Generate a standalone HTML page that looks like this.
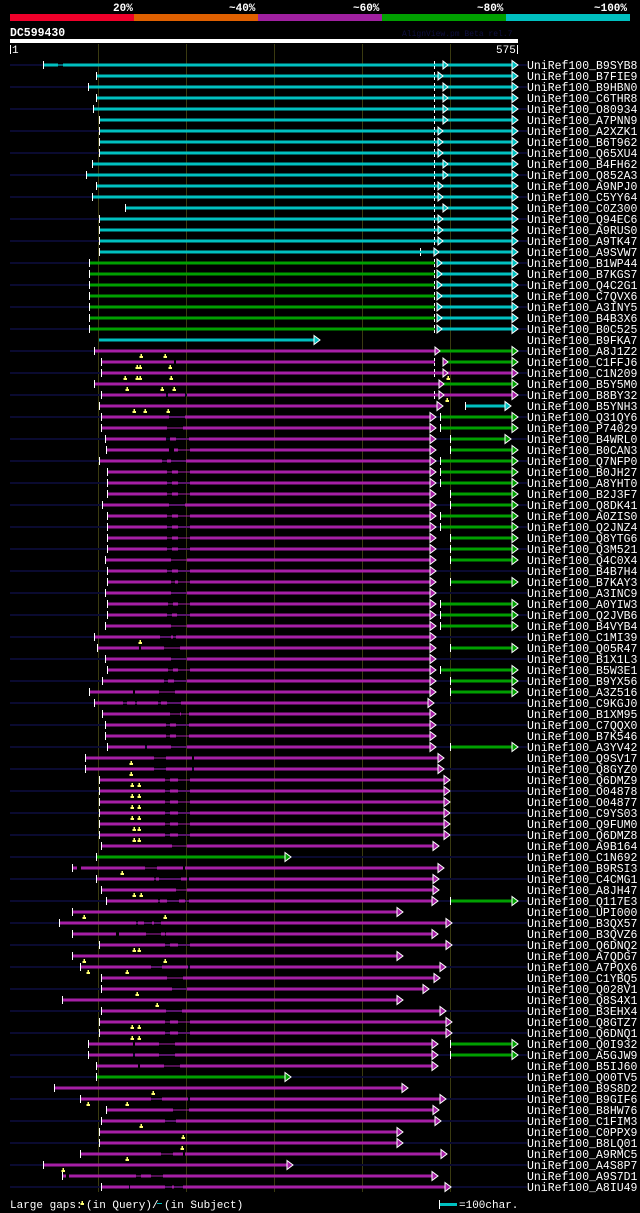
<!DOCTYPE html>
<html><head><meta charset="utf-8"><style>
html,body{margin:0;padding:0;background:#000;}
svg{display:block;}
text{font-family:"Liberation Mono","DejaVu Sans Mono",monospace;fill:#fff;}
.l{font-size:11.5px;}
.m{fill:#a61fa6}.c{fill:#00c0c0}.g{fill:#00a000}.n{fill:#0a0a30}.w{fill:#fff}
</style></head><body>
<svg width="640" height="1213" viewBox="0 0 640 1213" xmlns="http://www.w3.org/2000/svg">
<defs>
<polygon id="am" points="0,-4.5 6,0 0,4.5" fill="#a61fa6" stroke="#fff" stroke-width="1"/>
<polygon id="ag" points="0,-4.5 6,0 0,4.5" fill="#00a000" stroke="#fff" stroke-width="1"/>
<polygon id="ac" points="0,-4.5 6,0 0,4.5" fill="#00c0c0" stroke="#fff" stroke-width="1"/>
<polygon id="sc" points="0,-4 5,0 0,4" fill="#00c0c0" stroke="#fff" stroke-width="1"/>
<polygon id="sm" points="0,-4 5,0 0,4" fill="#a61fa6" stroke="#fff" stroke-width="1"/>
<g id="y"><rect x="-0.5" y="3" width="1.5" height="2" fill="#ffff70"/><rect x="-1.5" y="5" width="3.5" height="2" fill="#ffff70"/></g>
<g id="d"><rect x="0" y="-4" width="1" height="3" fill="#fff"/><rect x="0" y="1" width="1" height="3" fill="#fff"/></g>
</defs>
<!-- header -->
<text x="113" y="11" style="font-size:11px;font-weight:bold">20%</text>
<text x="229" y="11" style="font-size:11px;font-weight:bold">~40%</text>
<text x="353" y="11" style="font-size:11px;font-weight:bold">~60%</text>
<text x="477" y="11" style="font-size:11px;font-weight:bold">~80%</text>
<text x="594" y="11" style="font-size:11px;font-weight:bold">~100%</text>
<rect x="10" y="14" width="124" height="7" fill="#f0002a"/>
<rect x="134" y="14" width="124" height="7" fill="#e06000"/>
<rect x="258" y="14" width="124" height="7" fill="#a020a0"/>
<rect x="382" y="14" width="124" height="7" fill="#00a000"/>
<rect x="506" y="14" width="124" height="7" fill="#00c0c0"/>
<text x="10" y="36" style="font-size:11.5px;font-weight:bold">DC599430</text>
<text x="402" y="36" style="font-size:8px;fill:#101040">AlignView.pm Beta rel.7</text>
<rect x="10" y="39" width="508" height="4" fill="#fff"/>
<rect x="10" y="45" width="1" height="9" fill="#fff"/>
<text x="12" y="53" style="font-size:11px">1</text>
<text x="496" y="53" style="font-size:11px">575</text>
<rect x="517" y="45" width="1" height="9" fill="#fff"/>
<g fill="#3a3a10"><rect x="98" y="44" width="1" height="1148"/><rect x="186" y="44" width="1" height="1148"/><rect x="274" y="44" width="1" height="1148"/><rect x="362" y="44" width="1" height="1148"/><rect x="450" y="44" width="1" height="1148"/></g>
<!-- odd-row navy lines -->
<g class="n">
<rect x="10" y="64" width="517" height="2"/><rect x="10" y="86" width="517" height="2"/><rect x="10" y="108" width="517" height="2"/><rect x="10" y="130" width="517" height="2"/><rect x="10" y="152" width="517" height="2"/><rect x="10" y="174" width="517" height="2"/><rect x="10" y="196" width="517" height="2"/><rect x="10" y="218" width="517" height="2"/><rect x="10" y="240" width="517" height="2"/><rect x="10" y="262" width="517" height="2"/><rect x="10" y="284" width="517" height="2"/><rect x="10" y="306" width="517" height="2"/><rect x="10" y="328" width="517" height="2"/><rect x="10" y="350" width="517" height="2"/><rect x="10" y="372" width="517" height="2"/><rect x="10" y="394" width="517" height="2"/><rect x="10" y="416" width="517" height="2"/><rect x="10" y="438" width="517" height="2"/><rect x="10" y="460" width="517" height="2"/><rect x="10" y="482" width="517" height="2"/><rect x="10" y="504" width="517" height="2"/><rect x="10" y="526" width="517" height="2"/><rect x="10" y="548" width="517" height="2"/><rect x="10" y="570" width="517" height="2"/><rect x="10" y="592" width="517" height="2"/><rect x="10" y="614" width="517" height="2"/><rect x="10" y="636" width="517" height="2"/><rect x="10" y="658" width="517" height="2"/><rect x="10" y="680" width="517" height="2"/><rect x="10" y="702" width="517" height="2"/><rect x="10" y="724" width="517" height="2"/><rect x="10" y="746" width="517" height="2"/><rect x="10" y="768" width="517" height="2"/><rect x="10" y="790" width="517" height="2"/><rect x="10" y="812" width="517" height="2"/><rect x="10" y="834" width="517" height="2"/><rect x="10" y="856" width="517" height="2"/><rect x="10" y="878" width="517" height="2"/><rect x="10" y="900" width="517" height="2"/><rect x="10" y="922" width="517" height="2"/><rect x="10" y="944" width="517" height="2"/><rect x="10" y="966" width="517" height="2"/><rect x="10" y="988" width="517" height="2"/><rect x="10" y="1010" width="517" height="2"/><rect x="10" y="1032" width="517" height="2"/><rect x="10" y="1054" width="517" height="2"/><rect x="10" y="1076" width="517" height="2"/><rect x="10" y="1098" width="517" height="2"/><rect x="10" y="1120" width="517" height="2"/><rect x="10" y="1142" width="517" height="2"/><rect x="10" y="1164" width="517" height="2"/><rect x="10" y="1186" width="517" height="2"/>
</g>
<!-- cyan rows 1-18 -->
<g transform="translate(0,65)"><rect class="c" x="44" y="-1.5" width="14" height="3"/><rect class="c" x="58" y="-0.5" width="5" height="1"/><rect class="c" x="63" y="-1.5" width="449" height="3"/><rect class="w" x="43" y="-4" width="1" height="8"/><use href="#d" x="434"/><use href="#sc" x="443"/><use href="#ac" x="512"/><text class="l" x="527" y="4">UniRef100_B9SYB8</text></g>
<g transform="translate(0,76)"><rect class="c" x="96" y="-1.5" width="416" height="3"/><rect class="w" x="96" y="-4" width="1" height="8"/><use href="#d" x="434"/><use href="#sc" x="438"/><use href="#ac" x="512"/><text class="l" x="527" y="4">UniRef100_B7FIE9</text></g>
<g transform="translate(0,87)"><rect class="c" x="88" y="-1.5" width="424" height="3"/><rect class="w" x="88" y="-4" width="1" height="8"/><use href="#d" x="434"/><use href="#sc" x="443"/><use href="#ac" x="512"/><text class="l" x="527" y="4">UniRef100_B9HBN0</text></g>
<g transform="translate(0,98)"><rect class="c" x="96" y="-1.5" width="416" height="3"/><rect class="w" x="96" y="-4" width="1" height="8"/><use href="#d" x="434"/><use href="#sc" x="443"/><use href="#ac" x="512"/><text class="l" x="527" y="4">UniRef100_C6THR8</text></g>
<g transform="translate(0,109)"><rect class="c" x="93" y="-1.5" width="419" height="3"/><rect class="w" x="93" y="-4" width="1" height="8"/><use href="#d" x="434"/><use href="#sc" x="443"/><use href="#ac" x="512"/><text class="l" x="527" y="4">UniRef100_O80934</text></g>
<g transform="translate(0,120)"><rect class="c" x="99" y="-1.5" width="413" height="3"/><rect class="w" x="99" y="-4" width="1" height="8"/><use href="#d" x="434"/><use href="#sc" x="443"/><use href="#ac" x="512"/><text class="l" x="527" y="4">UniRef100_A7PNN9</text></g>
<g transform="translate(0,131)"><rect class="c" x="99" y="-1.5" width="413" height="3"/><rect class="w" x="99" y="-4" width="1" height="8"/><use href="#d" x="434"/><use href="#sc" x="438"/><use href="#ac" x="512"/><text class="l" x="527" y="4">UniRef100_A2XZK1</text></g>
<g transform="translate(0,142)"><rect class="c" x="99" y="-1.5" width="413" height="3"/><rect class="w" x="99" y="-4" width="1" height="8"/><use href="#d" x="434"/><use href="#sc" x="438"/><use href="#ac" x="512"/><text class="l" x="527" y="4">UniRef100_B6T962</text></g>
<g transform="translate(0,153)"><rect class="c" x="99" y="-1.5" width="413" height="3"/><rect class="w" x="99" y="-4" width="1" height="8"/><use href="#d" x="434"/><use href="#sc" x="438"/><use href="#ac" x="512"/><text class="l" x="527" y="4">UniRef100_Q65XU4</text></g>
<g transform="translate(0,164)"><rect class="c" x="92" y="-1.5" width="420" height="3"/><rect class="w" x="92" y="-4" width="1" height="8"/><use href="#d" x="434"/><use href="#sc" x="443"/><use href="#ac" x="512"/><text class="l" x="527" y="4">UniRef100_B4FH62</text></g>
<g transform="translate(0,175)"><rect class="c" x="86" y="-1.5" width="426" height="3"/><rect class="w" x="86" y="-4" width="1" height="8"/><use href="#d" x="434"/><use href="#sc" x="443"/><use href="#ac" x="512"/><text class="l" x="527" y="4">UniRef100_Q852A3</text></g>
<g transform="translate(0,186)"><rect class="c" x="96" y="-1.5" width="416" height="3"/><rect class="w" x="96" y="-4" width="1" height="8"/><use href="#d" x="434"/><use href="#sc" x="438"/><use href="#ac" x="512"/><text class="l" x="527" y="4">UniRef100_A9NPJ0</text></g>
<g transform="translate(0,197)"><rect class="c" x="92" y="-1.5" width="420" height="3"/><rect class="w" x="92" y="-4" width="1" height="8"/><use href="#d" x="434"/><use href="#sc" x="438"/><use href="#ac" x="512"/><text class="l" x="527" y="4">UniRef100_C5YY64</text></g>
<g transform="translate(0,208)"><rect class="c" x="125" y="-1.5" width="387" height="3"/><rect class="w" x="125" y="-4" width="1" height="8"/><use href="#d" x="434"/><use href="#sc" x="443"/><use href="#ac" x="512"/><text class="l" x="527" y="4">UniRef100_C0Z300</text></g>
<g transform="translate(0,219)"><rect class="c" x="99" y="-1.5" width="413" height="3"/><rect class="w" x="99" y="-4" width="1" height="8"/><use href="#d" x="434"/><use href="#sc" x="438"/><use href="#ac" x="512"/><text class="l" x="527" y="4">UniRef100_Q94EC6</text></g>
<g transform="translate(0,230)"><rect class="c" x="99" y="-1.5" width="413" height="3"/><rect class="w" x="99" y="-4" width="1" height="8"/><use href="#d" x="434"/><use href="#sc" x="438"/><use href="#ac" x="512"/><text class="l" x="527" y="4">UniRef100_A9RUS0</text></g>
<g transform="translate(0,241)"><rect class="c" x="99" y="-1.5" width="413" height="3"/><rect class="w" x="99" y="-4" width="1" height="8"/><use href="#d" x="434"/><use href="#sc" x="438"/><use href="#ac" x="512"/><text class="l" x="527" y="4">UniRef100_A9TK47</text></g>
<g transform="translate(0,252)"><rect class="c" x="99" y="-1.5" width="413" height="3"/><rect class="w" x="99" y="-4" width="1" height="8"/><use href="#d" x="420"/><use href="#sc" x="434"/><use href="#ac" x="512"/><text class="l" x="527" y="4">UniRef100_A9SVW7</text></g>
<!-- green+cyan rows 19-25 -->
<g transform="translate(0,263)"><rect class="g" x="89" y="-1.5" width="346" height="3"/><rect class="c" x="437" y="-1.5" width="75" height="3"/><rect class="w" x="89" y="-4" width="1" height="8"/><use href="#d" x="434"/><use href="#sc" x="437"/><use href="#ac" x="512"/><text class="l" x="527" y="4">UniRef100_B1WP44</text></g>
<g transform="translate(0,274)"><rect class="g" x="89" y="-1.5" width="346" height="3"/><rect class="c" x="437" y="-1.5" width="75" height="3"/><rect class="w" x="89" y="-4" width="1" height="8"/><use href="#d" x="434"/><use href="#sc" x="437"/><use href="#ac" x="512"/><text class="l" x="527" y="4">UniRef100_B7KGS7</text></g>
<g transform="translate(0,285)"><rect class="g" x="89" y="-1.5" width="346" height="3"/><rect class="c" x="437" y="-1.5" width="75" height="3"/><rect class="w" x="89" y="-4" width="1" height="8"/><use href="#d" x="434"/><use href="#sc" x="437"/><use href="#ac" x="512"/><text class="l" x="527" y="4">UniRef100_Q4C2G1</text></g>
<g transform="translate(0,296)"><rect class="g" x="89" y="-1.5" width="346" height="3"/><rect class="c" x="437" y="-1.5" width="75" height="3"/><rect class="w" x="89" y="-4" width="1" height="8"/><use href="#d" x="434"/><use href="#sc" x="437"/><use href="#ac" x="512"/><text class="l" x="527" y="4">UniRef100_C7QVX6</text></g>
<g transform="translate(0,307)"><rect class="g" x="89" y="-1.5" width="346" height="3"/><rect class="c" x="437" y="-1.5" width="75" height="3"/><rect class="w" x="89" y="-4" width="1" height="8"/><use href="#d" x="434"/><use href="#sc" x="437"/><use href="#ac" x="512"/><text class="l" x="527" y="4">UniRef100_A3INY5</text></g>
<g transform="translate(0,318)"><rect class="g" x="89" y="-1.5" width="346" height="3"/><rect class="c" x="437" y="-1.5" width="75" height="3"/><rect class="w" x="89" y="-4" width="1" height="8"/><use href="#d" x="434"/><use href="#sc" x="437"/><use href="#ac" x="512"/><text class="l" x="527" y="4">UniRef100_B4B3X6</text></g>
<g transform="translate(0,329)"><rect class="g" x="89" y="-1.5" width="346" height="3"/><rect class="c" x="437" y="-1.5" width="75" height="3"/><rect class="w" x="89" y="-4" width="1" height="8"/><use href="#d" x="434"/><use href="#sc" x="437"/><use href="#ac" x="512"/><text class="l" x="527" y="4">UniRef100_B0C525</text></g>
<g transform="translate(0,340)"><rect class="c" x="99" y="-1.5" width="215" height="3"/><use href="#ac" x="314"/><text class="l" x="527" y="4">UniRef100_B9FKA7</text></g>
<!-- magenta rows -->
<g transform="translate(0,351)"><rect class="m" x="94" y="-1.5" width="341" height="3"/><rect class="g" x="437" y="-1.5" width="75" height="3"/><rect class="w" x="94" y="-4" width="1" height="8"/><use href="#sm" x="435"/><use href="#ag" x="512"/><use href="#y" x="141"/><use href="#y" x="165"/><text class="l" x="527" y="4">UniRef100_A8J1Z2</text></g>
<g transform="translate(0,362)"><rect class="m" x="101" y="-1.5" width="73" height="3"/><rect class="m" x="176" y="-1.5" width="259" height="3"/><rect class="g" x="445" y="-1.5" width="67" height="3"/><rect class="w" x="101" y="-4" width="1" height="8"/><use href="#d" x="434"/><use href="#sm" x="443"/><use href="#ag" x="512"/><use href="#y" x="137"/><use href="#y" x="140"/><use href="#y" x="170"/><text class="l" x="527" y="4">UniRef100_C1FFJ6</text></g>
<g transform="translate(0,373)"><rect class="m" x="101" y="-1.5" width="411" height="3"/><rect class="w" x="101" y="-4" width="1" height="8"/><use href="#d" x="434"/><use href="#sm" x="443"/><use href="#am" x="512"/><use href="#y" x="125"/><use href="#y" x="137"/><use href="#y" x="140"/><use href="#y" x="171"/><use href="#y" x="448"/><text class="l" x="527" y="4">UniRef100_C1N209</text></g>
<g transform="translate(0,384)"><rect class="m" x="94" y="-1.5" width="345" height="3"/><rect class="g" x="440" y="-1.5" width="72" height="3"/><rect class="w" x="94" y="-4" width="1" height="8"/><use href="#sm" x="439"/><use href="#ag" x="512"/><use href="#y" x="127"/><use href="#y" x="162"/><use href="#y" x="174"/><text class="l" x="527" y="4">UniRef100_B5Y5M0</text></g>
<g transform="translate(0,395)"><rect class="m" x="101" y="-1.5" width="65" height="3"/><rect class="m" x="168" y="-1.5" width="17" height="3"/><rect class="m" x="187" y="-1.5" width="325" height="3"/><rect class="w" x="101" y="-4" width="1" height="8"/><use href="#d" x="434"/><use href="#sm" x="439"/><use href="#am" x="512"/><use href="#y" x="447"/><text class="l" x="527" y="4">UniRef100_B8BY32</text></g>
<g transform="translate(0,406)"><rect class="m" x="99" y="-1.5" width="338" height="3"/><rect class="c" x="465" y="-1.5" width="40" height="3"/><rect class="w" x="99" y="-4" width="1" height="8"/><rect class="w" x="465" y="-4" width="1" height="8"/><use href="#am" x="437"/><use href="#ac" x="505"/><use href="#y" x="134"/><use href="#y" x="145"/><use href="#y" x="168"/><text class="l" x="527" y="4">UniRef100_B5YNH3</text></g>
<g transform="translate(0,417)"><rect class="m" x="101" y="-1.5" width="68" height="3"/><rect class="m" x="169" y="-0.5" width="16" height="1"/><rect class="m" x="185" y="-1.5" width="245" height="3"/><rect class="g" x="440" y="-1.5" width="72" height="3"/><rect class="w" x="101" y="-4" width="1" height="8"/><rect class="w" x="440" y="-4" width="1" height="8"/><use href="#am" x="430"/><use href="#ag" x="512"/><text class="l" x="527" y="4">UniRef100_Q31QY6</text></g>
<g transform="translate(0,428)"><rect class="m" x="101" y="-1.5" width="66" height="3"/><rect class="m" x="167" y="-0.5" width="16" height="1"/><rect class="m" x="183" y="-1.5" width="247" height="3"/><rect class="g" x="440" y="-1.5" width="72" height="3"/><rect class="w" x="101" y="-4" width="1" height="8"/><rect class="w" x="440" y="-4" width="1" height="8"/><use href="#am" x="430"/><use href="#ag" x="512"/><text class="l" x="527" y="4">UniRef100_P74029</text></g>
<g transform="translate(0,439)"><rect class="m" x="105" y="-1.5" width="61" height="3"/><rect class="m" x="170" y="-1.5" width="6" height="3"/><rect class="m" x="176" y="-0.5" width="13" height="1"/><rect class="m" x="189" y="-1.5" width="241" height="3"/><rect class="g" x="450" y="-1.5" width="55" height="3"/><rect class="w" x="105" y="-4" width="1" height="8"/><rect class="w" x="450" y="-4" width="1" height="8"/><use href="#am" x="430"/><use href="#ag" x="505"/><text class="l" x="527" y="4">UniRef100_B4WRL0</text></g>
<g transform="translate(0,450)"><rect class="m" x="106" y="-1.5" width="63" height="3"/><rect class="m" x="174" y="-1.5" width="4" height="3"/><rect class="m" x="178" y="-0.5" width="12" height="1"/><rect class="m" x="190" y="-1.5" width="240" height="3"/><rect class="g" x="450" y="-1.5" width="62" height="3"/><rect class="w" x="106" y="-4" width="1" height="8"/><rect class="w" x="450" y="-4" width="1" height="8"/><use href="#am" x="430"/><use href="#ag" x="512"/><text class="l" x="527" y="4">UniRef100_B0CAN3</text></g>
<g transform="translate(0,461)"><rect class="m" x="99" y="-1.5" width="63" height="3"/><rect class="m" x="162" y="-0.5" width="24" height="1"/><rect class="m" x="167" y="-1.5" width="4" height="3"/><rect class="m" x="186" y="-1.5" width="244" height="3"/><rect class="g" x="440" y="-1.5" width="72" height="3"/><rect class="w" x="99" y="-4" width="1" height="8"/><rect class="w" x="440" y="-4" width="1" height="8"/><use href="#am" x="430"/><use href="#ag" x="512"/><text class="l" x="527" y="4">UniRef100_Q7NFP0</text></g>
<g transform="translate(0,472)"><rect class="m" x="107" y="-1.5" width="60" height="3"/><rect class="m" x="172" y="-1.5" width="6" height="3"/><rect class="m" x="167" y="-0.5" width="23" height="1"/><rect class="m" x="190" y="-1.5" width="240" height="3"/><rect class="g" x="440" y="-1.5" width="72" height="3"/><rect class="w" x="107" y="-4" width="1" height="8"/><rect class="w" x="440" y="-4" width="1" height="8"/><use href="#am" x="430"/><use href="#ag" x="512"/><text class="l" x="527" y="4">UniRef100_B0JH27</text></g>
<g transform="translate(0,483)"><rect class="m" x="107" y="-1.5" width="60" height="3"/><rect class="m" x="172" y="-1.5" width="6" height="3"/><rect class="m" x="167" y="-0.5" width="23" height="1"/><rect class="m" x="190" y="-1.5" width="240" height="3"/><rect class="g" x="440" y="-1.5" width="72" height="3"/><rect class="w" x="107" y="-4" width="1" height="8"/><rect class="w" x="440" y="-4" width="1" height="8"/><use href="#am" x="430"/><use href="#ag" x="512"/><text class="l" x="527" y="4">UniRef100_A8YHT0</text></g>
<g transform="translate(0,494)"><rect class="m" x="107" y="-1.5" width="60" height="3"/><rect class="m" x="172" y="-1.5" width="6" height="3"/><rect class="m" x="167" y="-0.5" width="23" height="1"/><rect class="m" x="190" y="-1.5" width="240" height="3"/><rect class="g" x="450" y="-1.5" width="62" height="3"/><rect class="w" x="107" y="-4" width="1" height="8"/><rect class="w" x="450" y="-4" width="1" height="8"/><use href="#am" x="430"/><use href="#ag" x="512"/><text class="l" x="527" y="4">UniRef100_B2J3F7</text></g>
<g transform="translate(0,505)"><rect class="m" x="102" y="-1.5" width="67" height="3"/><rect class="m" x="169" y="-0.5" width="16" height="1"/><rect class="m" x="185" y="-1.5" width="245" height="3"/><rect class="g" x="450" y="-1.5" width="62" height="3"/><rect class="w" x="102" y="-4" width="1" height="8"/><rect class="w" x="450" y="-4" width="1" height="8"/><use href="#am" x="430"/><use href="#ag" x="512"/><text class="l" x="527" y="4">UniRef100_Q8DK41</text></g>
<g transform="translate(0,516)"><rect class="m" x="107" y="-1.5" width="60" height="3"/><rect class="m" x="172" y="-1.5" width="6" height="3"/><rect class="m" x="167" y="-0.5" width="23" height="1"/><rect class="m" x="190" y="-1.5" width="240" height="3"/><rect class="g" x="440" y="-1.5" width="72" height="3"/><rect class="w" x="107" y="-4" width="1" height="8"/><rect class="w" x="440" y="-4" width="1" height="8"/><use href="#am" x="430"/><use href="#ag" x="512"/><text class="l" x="527" y="4">UniRef100_A0ZIS0</text></g>
<g transform="translate(0,527)"><rect class="m" x="107" y="-1.5" width="60" height="3"/><rect class="m" x="172" y="-1.5" width="6" height="3"/><rect class="m" x="167" y="-0.5" width="23" height="1"/><rect class="m" x="190" y="-1.5" width="240" height="3"/><rect class="g" x="440" y="-1.5" width="72" height="3"/><rect class="w" x="107" y="-4" width="1" height="8"/><rect class="w" x="440" y="-4" width="1" height="8"/><use href="#am" x="430"/><use href="#ag" x="512"/><text class="l" x="527" y="4">UniRef100_Q2JNZ4</text></g>
<g transform="translate(0,538)"><rect class="m" x="107" y="-1.5" width="60" height="3"/><rect class="m" x="172" y="-1.5" width="6" height="3"/><rect class="m" x="167" y="-0.5" width="23" height="1"/><rect class="m" x="190" y="-1.5" width="240" height="3"/><rect class="g" x="450" y="-1.5" width="62" height="3"/><rect class="w" x="107" y="-4" width="1" height="8"/><rect class="w" x="450" y="-4" width="1" height="8"/><use href="#am" x="430"/><use href="#ag" x="512"/><text class="l" x="527" y="4">UniRef100_Q8YTG6</text></g>
<g transform="translate(0,549)"><rect class="m" x="107" y="-1.5" width="60" height="3"/><rect class="m" x="172" y="-1.5" width="6" height="3"/><rect class="m" x="167" y="-0.5" width="23" height="1"/><rect class="m" x="190" y="-1.5" width="240" height="3"/><rect class="g" x="450" y="-1.5" width="62" height="3"/><rect class="w" x="107" y="-4" width="1" height="8"/><rect class="w" x="450" y="-4" width="1" height="8"/><use href="#am" x="430"/><use href="#ag" x="512"/><text class="l" x="527" y="4">UniRef100_Q3M521</text></g>
<g transform="translate(0,560)"><rect class="m" x="105" y="-1.5" width="66" height="3"/><rect class="m" x="171" y="-0.5" width="16" height="1"/><rect class="m" x="187" y="-1.5" width="243" height="3"/><rect class="g" x="450" y="-1.5" width="62" height="3"/><rect class="w" x="105" y="-4" width="1" height="8"/><rect class="w" x="450" y="-4" width="1" height="8"/><use href="#am" x="430"/><use href="#ag" x="512"/><text class="l" x="527" y="4">UniRef100_Q4C0X4</text></g>
<g transform="translate(0,571)"><rect class="m" x="107" y="-1.5" width="60" height="3"/><rect class="m" x="172" y="-1.5" width="6" height="3"/><rect class="m" x="167" y="-0.5" width="23" height="1"/><rect class="m" x="190" y="-1.5" width="240" height="3"/><rect class="w" x="107" y="-4" width="1" height="8"/><use href="#am" x="430"/><text class="l" x="527" y="4">UniRef100_B4B7H4</text></g>
<g transform="translate(0,582)"><rect class="m" x="107" y="-1.5" width="64" height="3"/><rect class="m" x="171" y="-0.5" width="19" height="1"/><rect class="m" x="175" y="-1.5" width="3" height="3"/><rect class="m" x="190" y="-1.5" width="240" height="3"/><rect class="g" x="450" y="-1.5" width="62" height="3"/><rect class="w" x="107" y="-4" width="1" height="8"/><rect class="w" x="450" y="-4" width="1" height="8"/><use href="#am" x="430"/><use href="#ag" x="512"/><text class="l" x="527" y="4">UniRef100_B7KAY3</text></g>
<g transform="translate(0,593)"><rect class="m" x="105" y="-1.5" width="66" height="3"/><rect class="m" x="171" y="-0.5" width="16" height="1"/><rect class="m" x="187" y="-1.5" width="243" height="3"/><rect class="w" x="105" y="-4" width="1" height="8"/><use href="#am" x="430"/><text class="l" x="527" y="4">UniRef100_A3INC9</text></g>
<g transform="translate(0,604)"><rect class="m" x="107" y="-1.5" width="61" height="3"/><rect class="m" x="173" y="-1.5" width="5" height="3"/><rect class="m" x="168" y="-0.5" width="22" height="1"/><rect class="m" x="190" y="-1.5" width="240" height="3"/><rect class="g" x="440" y="-1.5" width="72" height="3"/><rect class="w" x="107" y="-4" width="1" height="8"/><rect class="w" x="440" y="-4" width="1" height="8"/><use href="#am" x="430"/><use href="#ag" x="512"/><text class="l" x="527" y="4">UniRef100_A0YIW3</text></g>
<g transform="translate(0,615)"><rect class="m" x="107" y="-1.5" width="60" height="3"/><rect class="m" x="172" y="-1.5" width="5" height="3"/><rect class="m" x="167" y="-0.5" width="23" height="1"/><rect class="m" x="190" y="-1.5" width="240" height="3"/><rect class="g" x="440" y="-1.5" width="72" height="3"/><rect class="w" x="107" y="-4" width="1" height="8"/><rect class="w" x="440" y="-4" width="1" height="8"/><use href="#am" x="430"/><use href="#ag" x="512"/><text class="l" x="527" y="4">UniRef100_Q2JVB6</text></g>
<g transform="translate(0,626)"><rect class="m" x="105" y="-1.5" width="66" height="3"/><rect class="m" x="171" y="-0.5" width="16" height="1"/><rect class="m" x="187" y="-1.5" width="243" height="3"/><rect class="g" x="440" y="-1.5" width="72" height="3"/><rect class="w" x="105" y="-4" width="1" height="8"/><rect class="w" x="440" y="-4" width="1" height="8"/><use href="#am" x="430"/><use href="#ag" x="512"/><text class="l" x="527" y="4">UniRef100_B4VYB4</text></g>
<g transform="translate(0,637)"><rect class="m" x="94" y="-1.5" width="66" height="3"/><rect class="m" x="160" y="-0.5" width="16" height="1"/><rect class="m" x="171" y="-1.5" width="2" height="3"/><rect class="m" x="176" y="-1.5" width="254" height="3"/><rect class="w" x="94" y="-4" width="1" height="8"/><use href="#am" x="430"/><use href="#y" x="140"/><text class="l" x="527" y="4">UniRef100_C1MI39</text></g>
<g transform="translate(0,648)"><rect class="m" x="97" y="-1.5" width="42" height="3"/><rect class="m" x="141" y="-1.5" width="23" height="3"/><rect class="m" x="164" y="-0.5" width="16" height="1"/><rect class="m" x="180" y="-1.5" width="250" height="3"/><rect class="g" x="450" y="-1.5" width="62" height="3"/><rect class="w" x="97" y="-4" width="1" height="8"/><rect class="w" x="450" y="-4" width="1" height="8"/><use href="#am" x="430"/><use href="#ag" x="512"/><text class="l" x="527" y="4">UniRef100_Q05R47</text></g>
<g transform="translate(0,659)"><rect class="m" x="105" y="-1.5" width="66" height="3"/><rect class="m" x="171" y="-0.5" width="16" height="1"/><rect class="m" x="187" y="-1.5" width="243" height="3"/><rect class="w" x="105" y="-4" width="1" height="8"/><use href="#am" x="430"/><text class="l" x="527" y="4">UniRef100_B1X1L3</text></g>
<g transform="translate(0,670)"><rect class="m" x="107" y="-1.5" width="61" height="3"/><rect class="m" x="173" y="-1.5" width="5" height="3"/><rect class="m" x="168" y="-0.5" width="22" height="1"/><rect class="m" x="190" y="-1.5" width="240" height="3"/><rect class="g" x="440" y="-1.5" width="72" height="3"/><rect class="w" x="107" y="-4" width="1" height="8"/><rect class="w" x="440" y="-4" width="1" height="8"/><use href="#am" x="430"/><use href="#ag" x="512"/><text class="l" x="527" y="4">UniRef100_B5W3E1</text></g>
<g transform="translate(0,681)"><rect class="m" x="102" y="-1.5" width="62" height="3"/><rect class="m" x="168" y="-1.5" width="6" height="3"/><rect class="m" x="164" y="-0.5" width="23" height="1"/><rect class="m" x="187" y="-1.5" width="243" height="3"/><rect class="g" x="450" y="-1.5" width="62" height="3"/><rect class="w" x="102" y="-4" width="1" height="8"/><rect class="w" x="450" y="-4" width="1" height="8"/><use href="#am" x="430"/><use href="#ag" x="512"/><text class="l" x="527" y="4">UniRef100_B9YX56</text></g>
<g transform="translate(0,692)"><rect class="m" x="89" y="-1.5" width="44" height="3"/><rect class="m" x="135" y="-1.5" width="24" height="3"/><rect class="m" x="159" y="-0.5" width="16" height="1"/><rect class="m" x="175" y="-1.5" width="255" height="3"/><rect class="g" x="450" y="-1.5" width="62" height="3"/><rect class="w" x="89" y="-4" width="1" height="8"/><rect class="w" x="450" y="-4" width="1" height="8"/><use href="#am" x="430"/><use href="#ag" x="512"/><text class="l" x="527" y="4">UniRef100_A3Z516</text></g>
<g transform="translate(0,703)"><rect class="m" x="94" y="-1.5" width="29" height="3"/><rect class="m" x="127" y="-1.5" width="8" height="3"/><rect class="m" x="137" y="-1.5" width="21" height="3"/><rect class="m" x="161" y="-1.5" width="6" height="3"/><rect class="m" x="123" y="-0.5" width="58" height="1"/><rect class="m" x="181" y="-1.5" width="247" height="3"/><rect class="w" x="94" y="-4" width="1" height="8"/><use href="#am" x="428"/><text class="l" x="527" y="4">UniRef100_C9KGJ0</text></g>
<g transform="translate(0,714)"><rect class="m" x="102" y="-1.5" width="68" height="3"/><rect class="m" x="170" y="-0.5" width="19" height="1"/><rect class="m" x="180" y="-1.5" width="1" height="3"/><rect class="m" x="189" y="-1.5" width="241" height="3"/><rect class="w" x="102" y="-4" width="1" height="8"/><use href="#am" x="430"/><text class="l" x="527" y="4">UniRef100_B1XM95</text></g>
<g transform="translate(0,725)"><rect class="m" x="105" y="-1.5" width="61" height="3"/><rect class="m" x="170" y="-1.5" width="6" height="3"/><rect class="m" x="166" y="-0.5" width="23" height="1"/><rect class="m" x="189" y="-1.5" width="241" height="3"/><rect class="w" x="105" y="-4" width="1" height="8"/><use href="#am" x="430"/><text class="l" x="527" y="4">UniRef100_C7QQX0</text></g>
<g transform="translate(0,736)"><rect class="m" x="105" y="-1.5" width="61" height="3"/><rect class="m" x="170" y="-1.5" width="6" height="3"/><rect class="m" x="166" y="-0.5" width="23" height="1"/><rect class="m" x="189" y="-1.5" width="241" height="3"/><rect class="w" x="105" y="-4" width="1" height="8"/><use href="#am" x="430"/><text class="l" x="527" y="4">UniRef100_B7K546</text></g>
<g transform="translate(0,747)"><rect class="m" x="107" y="-1.5" width="38" height="3"/><rect class="m" x="147" y="-1.5" width="24" height="3"/><rect class="m" x="171" y="-0.5" width="16" height="1"/><rect class="m" x="187" y="-1.5" width="243" height="3"/><rect class="g" x="450" y="-1.5" width="62" height="3"/><rect class="w" x="107" y="-4" width="1" height="8"/><rect class="w" x="450" y="-4" width="1" height="8"/><use href="#am" x="430"/><use href="#ag" x="512"/><text class="l" x="527" y="4">UniRef100_A3YV42</text></g>
<g transform="translate(0,758)"><rect class="m" x="86" y="-1.5" width="68" height="3"/><rect class="m" x="154" y="-0.5" width="12" height="1"/><rect class="m" x="166" y="-1.5" width="26" height="3"/><rect class="m" x="194" y="-1.5" width="244" height="3"/><rect class="w" x="85" y="-4" width="1" height="8"/><use href="#am" x="438"/><use href="#y" x="131"/><text class="l" x="527" y="4">UniRef100_Q9SV17</text></g>
<g transform="translate(0,769)"><rect class="m" x="86" y="-1.5" width="68" height="3"/><rect class="m" x="154" y="-0.5" width="12" height="1"/><rect class="m" x="166" y="-1.5" width="26" height="3"/><rect class="m" x="194" y="-1.5" width="244" height="3"/><rect class="w" x="85" y="-4" width="1" height="8"/><use href="#am" x="438"/><use href="#y" x="131"/><text class="l" x="527" y="4">UniRef100_Q8GYZ0</text></g>
<g transform="translate(0,780)"><rect class="m" x="100" y="-1.5" width="65" height="3"/><rect class="m" x="170" y="-1.5" width="8" height="3"/><rect class="m" x="165" y="-0.5" width="25" height="1"/><rect class="m" x="190" y="-1.5" width="254" height="3"/><rect class="w" x="99" y="-4" width="1" height="8"/><use href="#am" x="444"/><use href="#y" x="132"/><use href="#y" x="139"/><text class="l" x="527" y="4">UniRef100_Q6DMZ9</text></g>
<g transform="translate(0,791)"><rect class="m" x="100" y="-1.5" width="65" height="3"/><rect class="m" x="170" y="-1.5" width="8" height="3"/><rect class="m" x="165" y="-0.5" width="25" height="1"/><rect class="m" x="190" y="-1.5" width="254" height="3"/><rect class="w" x="99" y="-4" width="1" height="8"/><use href="#am" x="444"/><use href="#y" x="132"/><use href="#y" x="139"/><text class="l" x="527" y="4">UniRef100_O04878</text></g>
<g transform="translate(0,802)"><rect class="m" x="100" y="-1.5" width="65" height="3"/><rect class="m" x="170" y="-1.5" width="8" height="3"/><rect class="m" x="165" y="-0.5" width="25" height="1"/><rect class="m" x="190" y="-1.5" width="254" height="3"/><rect class="w" x="99" y="-4" width="1" height="8"/><use href="#am" x="444"/><use href="#y" x="132"/><use href="#y" x="139"/><text class="l" x="527" y="4">UniRef100_O04877</text></g>
<g transform="translate(0,813)"><rect class="m" x="100" y="-1.5" width="65" height="3"/><rect class="m" x="170" y="-1.5" width="8" height="3"/><rect class="m" x="165" y="-0.5" width="25" height="1"/><rect class="m" x="190" y="-1.5" width="254" height="3"/><rect class="w" x="99" y="-4" width="1" height="8"/><use href="#am" x="444"/><use href="#y" x="132"/><use href="#y" x="139"/><text class="l" x="527" y="4">UniRef100_C9YS03</text></g>
<g transform="translate(0,824)"><rect class="m" x="100" y="-1.5" width="65" height="3"/><rect class="m" x="170" y="-1.5" width="8" height="3"/><rect class="m" x="165" y="-0.5" width="25" height="1"/><rect class="m" x="190" y="-1.5" width="254" height="3"/><rect class="w" x="99" y="-4" width="1" height="8"/><use href="#am" x="444"/><use href="#y" x="134"/><use href="#y" x="139"/><text class="l" x="527" y="4">UniRef100_Q9FUM0</text></g>
<g transform="translate(0,835)"><rect class="m" x="100" y="-1.5" width="65" height="3"/><rect class="m" x="170" y="-1.5" width="8" height="3"/><rect class="m" x="165" y="-0.5" width="25" height="1"/><rect class="m" x="190" y="-1.5" width="254" height="3"/><rect class="w" x="99" y="-4" width="1" height="8"/><use href="#am" x="444"/><use href="#y" x="134"/><use href="#y" x="139"/><text class="l" x="527" y="4">UniRef100_Q6DMZ8</text></g>
<g transform="translate(0,846)"><rect class="m" x="102" y="-1.5" width="70" height="3"/><rect class="m" x="172" y="-0.5" width="15" height="1"/><rect class="m" x="187" y="-1.5" width="246" height="3"/><rect class="w" x="101" y="-4" width="1" height="8"/><use href="#am" x="433"/><text class="l" x="527" y="4">UniRef100_A9B164</text></g>
<g transform="translate(0,857)"><rect class="g" x="97" y="-1.5" width="188" height="3"/><rect class="w" x="96" y="-4" width="1" height="8"/><use href="#ag" x="285"/><text class="l" x="527" y="4">UniRef100_C1N692</text></g>
<g transform="translate(0,868)"><rect class="m" x="73" y="-1.5" width="4" height="3"/><rect class="m" x="81" y="-1.5" width="64" height="3"/><rect class="m" x="145" y="-0.5" width="12" height="1"/><rect class="m" x="157" y="-1.5" width="26" height="3"/><rect class="m" x="185" y="-1.5" width="253" height="3"/><rect class="w" x="72" y="-4" width="1" height="8"/><use href="#am" x="438"/><use href="#y" x="122"/><text class="l" x="527" y="4">UniRef100_B9RSI3</text></g>
<g transform="translate(0,879)"><rect class="m" x="97" y="-1.5" width="57" height="3"/><rect class="m" x="156" y="-1.5" width="3" height="3"/><rect class="m" x="154" y="-0.5" width="27" height="1"/><rect class="m" x="181" y="-1.5" width="6" height="3"/><rect class="m" x="189" y="-1.5" width="244" height="3"/><rect class="w" x="96" y="-4" width="1" height="8"/><use href="#am" x="433"/><text class="l" x="527" y="4">UniRef100_C4CMG1</text></g>
<g transform="translate(0,890)"><rect class="m" x="102" y="-1.5" width="74" height="3"/><rect class="m" x="176" y="-0.5" width="11" height="1"/><rect class="m" x="187" y="-1.5" width="246" height="3"/><rect class="w" x="101" y="-4" width="1" height="8"/><use href="#am" x="433"/><use href="#y" x="134"/><use href="#y" x="141"/><text class="l" x="527" y="4">UniRef100_A8JH47</text></g>
<g transform="translate(0,901)"><rect class="m" x="107" y="-1.5" width="51" height="3"/><rect class="m" x="160" y="-1.5" width="7" height="3"/><rect class="m" x="158" y="-0.5" width="31" height="1"/><rect class="m" x="179" y="-1.5" width="6" height="3"/><rect class="m" x="189" y="-1.5" width="243" height="3"/><rect class="g" x="450" y="-1.5" width="62" height="3"/><rect class="w" x="106" y="-4" width="1" height="8"/><rect class="w" x="450" y="-4" width="1" height="8"/><use href="#am" x="432"/><use href="#ag" x="512"/><text class="l" x="527" y="4">UniRef100_Q117E3</text></g>
<g transform="translate(0,912)"><rect class="m" x="73" y="-1.5" width="324" height="3"/><rect class="w" x="72" y="-4" width="1" height="8"/><use href="#am" x="397"/><use href="#y" x="84"/><use href="#y" x="165"/><text class="l" x="527" y="4">UniRef100_UPI000...</text></g>
<g transform="translate(0,923)"><rect class="m" x="60" y="-1.5" width="76" height="3"/><rect class="m" x="138" y="-1.5" width="6" height="3"/><rect class="m" x="136" y="-0.5" width="25" height="1"/><rect class="m" x="152" y="-1.5" width="2" height="3"/><rect class="m" x="161" y="-1.5" width="285" height="3"/><rect class="w" x="59" y="-4" width="1" height="8"/><use href="#am" x="446"/><text class="l" x="527" y="4">UniRef100_B3QX57</text></g>
<g transform="translate(0,934)"><rect class="m" x="73" y="-1.5" width="43" height="3"/><rect class="m" x="119" y="-1.5" width="27" height="3"/><rect class="m" x="146" y="-0.5" width="20" height="1"/><rect class="m" x="161" y="-1.5" width="4" height="3"/><rect class="m" x="166" y="-1.5" width="266" height="3"/><rect class="w" x="72" y="-4" width="1" height="8"/><use href="#am" x="432"/><text class="l" x="527" y="4">UniRef100_B3QVZ6</text></g>
<g transform="translate(0,945)"><rect class="m" x="100" y="-1.5" width="65" height="3"/><rect class="m" x="170" y="-1.5" width="8" height="3"/><rect class="m" x="165" y="-0.5" width="25" height="1"/><rect class="m" x="190" y="-1.5" width="256" height="3"/><rect class="w" x="99" y="-4" width="1" height="8"/><use href="#am" x="446"/><use href="#y" x="134"/><use href="#y" x="139"/><text class="l" x="527" y="4">UniRef100_Q6DNQ2</text></g>
<g transform="translate(0,956)"><rect class="m" x="73" y="-1.5" width="324" height="3"/><rect class="w" x="72" y="-4" width="1" height="8"/><use href="#am" x="397"/><use href="#y" x="84"/><use href="#y" x="165"/><text class="l" x="527" y="4">UniRef100_A7QDG7</text></g>
<g transform="translate(0,967)"><rect class="m" x="81" y="-1.5" width="70" height="3"/><rect class="m" x="151" y="-0.5" width="11" height="1"/><rect class="m" x="162" y="-1.5" width="26" height="3"/><rect class="m" x="190" y="-1.5" width="250" height="3"/><rect class="w" x="80" y="-4" width="1" height="8"/><use href="#am" x="440"/><use href="#y" x="88"/><use href="#y" x="127"/><text class="l" x="527" y="4">UniRef100_A7PQX6</text></g>
<g transform="translate(0,978)"><rect class="m" x="102" y="-1.5" width="65" height="3"/><rect class="m" x="167" y="-0.5" width="16" height="1"/><rect class="m" x="183" y="-1.5" width="251" height="3"/><rect class="w" x="101" y="-4" width="1" height="8"/><use href="#am" x="434"/><text class="l" x="527" y="4">UniRef100_C1YBQ5</text></g>
<g transform="translate(0,989)"><rect class="m" x="102" y="-1.5" width="70" height="3"/><rect class="m" x="172" y="-0.5" width="15" height="1"/><rect class="m" x="187" y="-1.5" width="236" height="3"/><rect class="w" x="101" y="-4" width="1" height="8"/><use href="#am" x="423"/><use href="#y" x="137"/><text class="l" x="527" y="4">UniRef100_Q028V1</text></g>
<g transform="translate(0,1000)"><rect class="m" x="62" y="-1.5" width="335" height="3"/><rect class="w" x="62" y="-4" width="1" height="8"/><use href="#am" x="397"/><use href="#y" x="157"/><text class="l" x="527" y="4">UniRef100_Q8S4X1</text></g>
<g transform="translate(0,1011)"><rect class="m" x="102" y="-1.5" width="64" height="3"/><rect class="m" x="166" y="-0.5" width="16" height="1"/><rect class="m" x="182" y="-1.5" width="258" height="3"/><rect class="w" x="101" y="-4" width="1" height="8"/><use href="#am" x="440"/><text class="l" x="527" y="4">UniRef100_B3EHX4</text></g>
<g transform="translate(0,1022)"><rect class="m" x="100" y="-1.5" width="65" height="3"/><rect class="m" x="170" y="-1.5" width="8" height="3"/><rect class="m" x="165" y="-0.5" width="25" height="1"/><rect class="m" x="190" y="-1.5" width="256" height="3"/><rect class="w" x="99" y="-4" width="1" height="8"/><use href="#am" x="446"/><use href="#y" x="132"/><use href="#y" x="139"/><text class="l" x="527" y="4">UniRef100_Q8GTZ7</text></g>
<g transform="translate(0,1033)"><rect class="m" x="100" y="-1.5" width="65" height="3"/><rect class="m" x="170" y="-1.5" width="8" height="3"/><rect class="m" x="165" y="-0.5" width="25" height="1"/><rect class="m" x="190" y="-1.5" width="256" height="3"/><rect class="w" x="99" y="-4" width="1" height="8"/><use href="#am" x="446"/><use href="#y" x="132"/><use href="#y" x="139"/><text class="l" x="527" y="4">UniRef100_Q6DNQ1</text></g>
<g transform="translate(0,1044)"><rect class="m" x="89" y="-1.5" width="44" height="3"/><rect class="m" x="135" y="-1.5" width="24" height="3"/><rect class="m" x="159" y="-0.5" width="16" height="1"/><rect class="m" x="175" y="-1.5" width="257" height="3"/><rect class="g" x="450" y="-1.5" width="62" height="3"/><rect class="w" x="88" y="-4" width="1" height="8"/><rect class="w" x="450" y="-4" width="1" height="8"/><use href="#am" x="432"/><use href="#ag" x="512"/><text class="l" x="527" y="4">UniRef100_Q0I932</text></g>
<g transform="translate(0,1055)"><rect class="m" x="89" y="-1.5" width="44" height="3"/><rect class="m" x="135" y="-1.5" width="24" height="3"/><rect class="m" x="159" y="-0.5" width="16" height="1"/><rect class="m" x="175" y="-1.5" width="257" height="3"/><rect class="g" x="450" y="-1.5" width="62" height="3"/><rect class="w" x="88" y="-4" width="1" height="8"/><rect class="w" x="450" y="-4" width="1" height="8"/><use href="#am" x="432"/><use href="#ag" x="512"/><text class="l" x="527" y="4">UniRef100_A5GJW9</text></g>
<g transform="translate(0,1066)"><rect class="m" x="97" y="-1.5" width="41" height="3"/><rect class="m" x="140" y="-1.5" width="24" height="3"/><rect class="m" x="164" y="-0.5" width="16" height="1"/><rect class="m" x="180" y="-1.5" width="252" height="3"/><rect class="w" x="96" y="-4" width="1" height="8"/><use href="#am" x="432"/><text class="l" x="527" y="4">UniRef100_B5IJ60</text></g>
<g transform="translate(0,1077)"><rect class="g" x="97" y="-1.5" width="188" height="3"/><rect class="w" x="96" y="-4" width="1" height="8"/><use href="#ag" x="285"/><text class="l" x="527" y="4">UniRef100_Q00TV5</text></g>
<g transform="translate(0,1088)"><rect class="m" x="55" y="-1.5" width="347" height="3"/><rect class="w" x="54" y="-4" width="1" height="8"/><use href="#am" x="402"/><use href="#y" x="153"/><text class="l" x="527" y="4">UniRef100_B9S8D2</text></g>
<g transform="translate(0,1099)"><rect class="m" x="81" y="-1.5" width="70" height="3"/><rect class="m" x="151" y="-0.5" width="11" height="1"/><rect class="m" x="162" y="-1.5" width="26" height="3"/><rect class="m" x="190" y="-1.5" width="250" height="3"/><rect class="w" x="80" y="-4" width="1" height="8"/><use href="#am" x="440"/><use href="#y" x="88"/><use href="#y" x="127"/><text class="l" x="527" y="4">UniRef100_B9GIF6</text></g>
<g transform="translate(0,1110)"><rect class="m" x="107" y="-1.5" width="66" height="3"/><rect class="m" x="173" y="-0.5" width="16" height="1"/><rect class="m" x="189" y="-1.5" width="244" height="3"/><rect class="w" x="106" y="-4" width="1" height="8"/><use href="#am" x="433"/><text class="l" x="527" y="4">UniRef100_B8HW76</text></g>
<g transform="translate(0,1121)"><rect class="m" x="102" y="-1.5" width="63" height="3"/><rect class="m" x="165" y="-0.5" width="11" height="1"/><rect class="m" x="176" y="-1.5" width="259" height="3"/><rect class="w" x="101" y="-4" width="1" height="8"/><use href="#am" x="435"/><use href="#y" x="141"/><text class="l" x="527" y="4">UniRef100_C1FIM3</text></g>
<g transform="translate(0,1132)"><rect class="m" x="100" y="-1.5" width="297" height="3"/><rect class="w" x="99" y="-4" width="1" height="8"/><use href="#am" x="397"/><use href="#y" x="183"/><text class="l" x="527" y="4">UniRef100_C0PPX9</text></g>
<g transform="translate(0,1143)"><rect class="m" x="100" y="-1.5" width="297" height="3"/><rect class="w" x="99" y="-4" width="1" height="8"/><use href="#am" x="397"/><use href="#y" x="182"/><text class="l" x="527" y="4">UniRef100_B8LQ01</text></g>
<g transform="translate(0,1154)"><rect class="m" x="81" y="-1.5" width="80" height="3"/><rect class="m" x="161" y="-0.5" width="12" height="1"/><rect class="m" x="173" y="-1.5" width="10" height="3"/><rect class="m" x="185" y="-1.5" width="256" height="3"/><rect class="w" x="80" y="-4" width="1" height="8"/><use href="#am" x="441"/><use href="#y" x="127"/><text class="l" x="527" y="4">UniRef100_A9RMC5</text></g>
<g transform="translate(0,1165)"><rect class="m" x="44" y="-1.5" width="244" height="3"/><rect class="w" x="43" y="-4" width="1" height="8"/><use href="#am" x="287"/><use href="#y" x="63"/><text class="l" x="527" y="4">UniRef100_A4S8P7</text></g>
<g transform="translate(0,1176)"><rect class="m" x="63" y="-1.5" width="3" height="3"/><rect class="m" x="69" y="-1.5" width="67" height="3"/><rect class="m" x="136" y="-0.5" width="27" height="1"/><rect class="m" x="141" y="-1.5" width="10" height="3"/><rect class="m" x="163" y="-1.5" width="269" height="3"/><rect class="w" x="62" y="-4" width="1" height="8"/><use href="#am" x="432"/><text class="l" x="527" y="4">UniRef100_A9S7D1</text></g>
<g transform="translate(0,1187)"><rect class="m" x="101" y="-1.5" width="28" height="3"/><rect class="m" x="130" y="-1.5" width="35" height="3"/><rect class="m" x="165" y="-0.5" width="18" height="1"/><rect class="m" x="172" y="-1.5" width="2" height="3"/><rect class="m" x="183" y="-1.5" width="262" height="3"/><rect class="w" x="101" y="-4" width="1" height="8"/><use href="#am" x="445"/><text class="l" x="527" y="4">UniRef100_A8IU49</text></g>
<!-- footer -->
<text x="10" y="1208" style="font-size:11px">Large gaps:</text>
<use href="#y" x="82" y="1198"/>
<text x="86" y="1208" style="font-size:11px">(in Query)/</text>
<rect x="157" y="1203" width="5" height="1" fill="#00c0c0"/>
<text x="164" y="1208" style="font-size:11px">(in Subject)</text>
<rect x="439" y="1200" width="1" height="9" fill="#fff"/>
<rect x="440" y="1203" width="17" height="3" fill="#00c0c0"/>
<text x="459" y="1208" style="font-size:11px">=100char.</text>
</svg>
</body></html>
